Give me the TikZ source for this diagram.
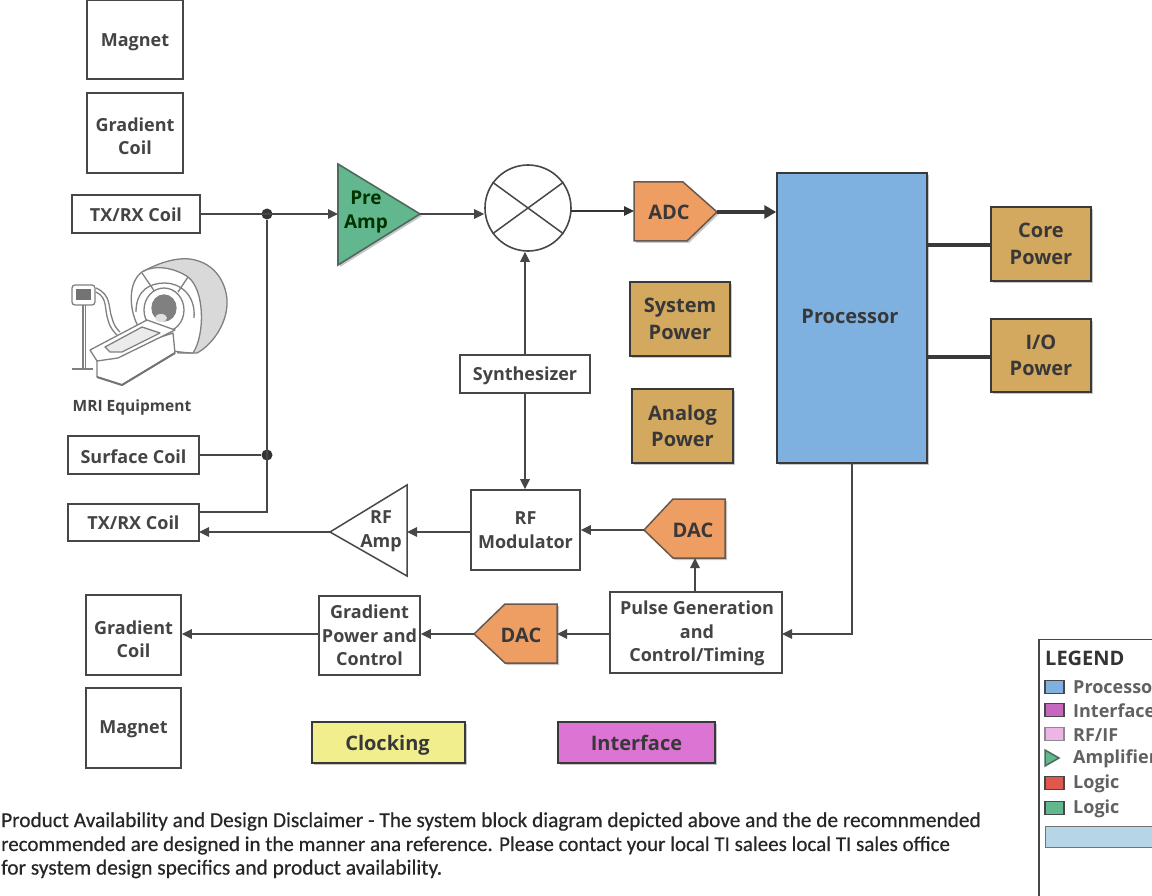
\documentclass[tikz,border=0pt]{standalone}
\usepackage{fontspec}
\setmainfont{Open Sans}
\newfontfamily\discfont[FakeBold=0.4]{Carlito}
\usetikzlibrary{arrows.meta,shadows,calc}
\definecolor{ln}{HTML}{474747}
\definecolor{txt}{HTML}{444444}
\definecolor{tan}{HTML}{D3A85F}
\definecolor{orng}{HTML}{EE9D63}
\definecolor{grn}{HTML}{62B78E}
\definecolor{blu}{HTML}{7FB1E0}
\definecolor{yel}{HTML}{F1EE8E}
\definecolor{mag}{HTML}{DB74D2}
\tikzset{
  lbl/.style={font=\fontsize{18}{23.5}\selectfont\bfseries,text=txt,align=center,inner sep=0pt},
  biglbl/.style={font=\fontsize{20}{26.5}\selectfont\bfseries,text=black!78,align=center,inner sep=0pt},
  wbox/.style={draw=ln,line width=1.6pt,fill=white,inner sep=0pt},
  softshadow/.style={drop shadow={shadow xshift=2pt,shadow yshift=-2pt,fill=black,opacity=.22}},
  cbox/.style={draw=ln!80!black,line width=1.5pt,inner sep=0pt,softshadow},
  wire/.style={draw=ln,line width=1.3pt},
  thinwire/.style={draw=black!80,line width=1.05pt},
  thickwire/.style={draw=ln!80!black,line width=3.2pt},
  arr/.style={-{Triangle[length=10pt,width=9.5pt]}},
  dot/.style={circle,fill=black!80,minimum size=11pt,inner sep=0pt},
  lgd/.style={font=\fontsize{18}{22}\selectfont\bfseries,text=black!62,anchor=west,inner sep=0pt},
  swatch/.style={draw=ln,line width=1.4pt,minimum width=19pt,minimum height=13pt,inner sep=0pt},
  disc/.style={text=black!85,anchor=west,inner sep=0pt},
  art/.style={draw=black!50,line width=1.3pt,line join=round},
}
\newcommand{\bx}[8]{\node[#1,minimum width=#5pt-#3pt,minimum height=#6pt-#4pt] (#7) at ({(#3+#5)/2},{(#4+#6)/2}) {};
  \node[#2] (#7t) at ({(#3+#5)/2},{(#4+#6)/2}) {#8};}
\begin{document}
\begin{tikzpicture}[x=1pt,y=-1pt]
\useasboundingbox (0,0) rectangle (1152,896);
\clip (0,0) rectangle (1152,896);
\fill[white] (0,0) rectangle (1152,896);

% white blocks
\bx{wbox}{lbl,yshift=-3pt}{87}{0}{183}{79}{magtop}{Magnet}
\bx{wbox}{lbl,yshift=-3.5pt}{87}{93}{183}{173}{gradtop}{Gradient\\Coil}
\bx{wbox}{lbl,yshift=-1pt}{72}{195}{200}{233}{txtop}{TX/RX Coil}
\bx{wbox}{lbl,yshift=-2pt}{68}{436}{199}{474}{surf}{Surface Coil}
\bx{wbox}{lbl}{68}{504}{199}{541}{txbot}{TX/RX Coil}
\bx{wbox}{lbl,yshift=-2pt}{460}{355}{590}{393}{synth}{Synthesizer}
\bx{wbox}{lbl}{471}{490}{580}{570}{rfmod}{RF\\Modulator}
\bx{wbox}{lbl}{319}{596}{420}{675}{gradpow}{Gradient\\Power and\\Control}
\bx{wbox}{lbl,yshift=-1pt,xshift=1pt}{610}{592}{782}{673}{pulse}{Pulse Generation\\and\\Control/Timing}
\bx{wbox}{lbl,yshift=-4pt}{86}{595}{181}{675}{gradbot}{Gradient\\Coil}
\bx{wbox}{lbl,yshift=-1pt}{86}{688}{181}{768}{magbot}{Magnet}

% coloured blocks
\bx{cbox,fill=blu}{biglbl,yshift=2pt,xshift=-2pt}{777}{173}{927}{463}{proc}{Processor}
\bx{cbox,fill=tan}{biglbl}{991}{207}{1091}{281}{core}{Core\\Power}
\bx{cbox,fill=tan}{biglbl}{991}{319}{1091}{392}{iop}{I/O\\Power}
\bx{cbox,fill=tan}{biglbl}{630}{282}{730}{356}{syspow}{System\\Power}
\bx{cbox,fill=tan}{biglbl}{632}{389}{733}{463}{anapow}{Analog\\Power}
\bx{cbox,fill=yel}{biglbl,yshift=-3pt,xshift=-1pt}{312}{722}{465}{763}{clk}{Clocking}
\bx{cbox,fill=mag}{biglbl}{558}{722}{715}{763}{intf}{Interface}

% triangles, pentagons and mixer
\draw[line width=1.6pt,draw=ln!70!grn,fill=grn,softshadow] (338,164) -- (420,214) -- (338,265) -- cycle;
\node[biglbl,font=\fontsize{19}{24}\selectfont\bfseries,text=green!20!black] (preamp) at (366,212.5) {Pre\\Amp};
\coordinate (preIn) at (338,214);
\coordinate (preOut) at (420,214);

\draw[draw=ln,line width=1.5pt,fill=white] (330,532) -- (407,485) -- (407,576) -- cycle;
\node[lbl] (rfamp) at (381,531) {RF\\Amp};
\coordinate (rfampIn) at (407,532);
\coordinate (rfampOut) at (330,532);

\node[circle,draw=ln,line width=1.6pt,fill=white,minimum size=86pt,inner sep=0pt] (mix) at (528,208) {};
\draw[wire,line width=1.5pt] (mix.36) -- (mix.216) (mix.144) -- (mix.324);

\draw[line width=1.5pt,draw=ln!80!orng,fill=orng,softshadow] (634,182) -- (683,182) -- (717,212) -- (687,241) -- (634,241) -- cycle;
\node[biglbl] (adc) at (669,212) {ADC};
\coordinate (adcIn) at (634,211);
\coordinate (adcOut) at (717,212);

\draw[line width=1.5pt,draw=ln!80!orng,fill=orng,softshadow] (725,499) -- (673,499) -- (644,530) -- (673,558) -- (725,558) -- cycle;
\node[biglbl] (dacA) at (693,530) {DAC};
\coordinate (dacAIn) at (695,558);
\coordinate (dacAOut) at (644,530);

\draw[line width=1.5pt,draw=ln!80!orng,fill=orng,softshadow] (557,604) -- (505,604) -- (474,634) -- (505,663) -- (557,663) -- cycle;
\node[biglbl] (dacB) at (521,635) {DAC};
\coordinate (dacBIn) at (557,634);
\coordinate (dacBOut) at (474,634);

% connectors
\node[dot] (j1) at (267,214) {};
\node[dot] (j2) at (267,455) {};
\draw[wire,arr] (txtop.east |- j1) -- (preIn);
\draw[wire] (surf.east |- j2) -- (j2);
\coordinate (txbotIn) at (199,512);
\coordinate (txbotOut) at (199,532);
\coordinate (bend) at (267,512);
\draw[wire] (j1) -- (bend) -- (txbotIn);
\draw[wire,arr] (rfampOut) -- (txbotOut);
\coordinate (mixIn) at (mix.west |- preOut);
\draw[wire,arr] (preOut) -- (mixIn);
\coordinate (mixOut) at (571,211);
\draw[thinwire,arr] (mixOut) -- (adcIn);
\draw[thickwire,-{Triangle[length=12pt,width=13pt]}] (adcOut) -- (proc.west |- adcOut);
\coordinate (mixS) at (synth.north |- mix.south);
\draw[wire,arr] (synth.north) -- (mixS);
\coordinate (rfmodN) at (synth.south |- rfmod.north);
\draw[wire,arr] (synth.south) -- (rfmodN);
\coordinate (rfmodIn) at (rfmod.east |- dacAOut);
\draw[wire,arr] (dacAOut) -- (rfmodIn);
\coordinate (rfmodOut) at (rfmod.west |- rfampIn);
\draw[wire,arr] (rfmodOut) -- (rfampIn);
\coordinate (pulseTop) at (dacAIn |- pulse.north);
\draw[wire,arr] (pulseTop) -- (dacAIn);
\coordinate (pulseLeft) at (pulse.west |- dacBIn);
\draw[wire,arr] (pulseLeft) -- (dacBIn);
\coordinate (gpIn) at (gradpow.east |- dacBOut);
\draw[wire,arr] (dacBOut) -- (gpIn);
\coordinate (gpOut) at (gradpow.west |- dacBOut);
\draw[wire,arr] (gpOut) -- (gradbot.east |- dacBOut);
\coordinate (procOut) at (852,463);
\coordinate (pulseRight) at (782,634);
\draw[wire,arr] (procOut) |- (pulseRight);
\draw[thickwire] (proc.east |- 0,245) -- (core.west |- 0,245);
\draw[thickwire] (proc.east |- 0,357) -- (iop.west |- 0,357);

% MRI equipment
\begin{scope}[art]
  \draw[fill=black!15] (142,272) .. controls (160,262) and (180,256) .. (195,260)
     .. controls (220,266) and (228,290) .. (227,305)
     .. controls (226,325) and (212,345) .. (197,353) -- (178,353) -- cycle;
  \draw[fill=white] (142,272) .. controls (128,282) and (128,310) .. (140,330)
     .. controls (150,345) and (165,352) .. (193,353)
     .. controls (205,335) and (205,290) .. (188,277)
     .. controls (175,268) and (155,264) .. (142,272) -- cycle;
  \draw (142,273) -- (155,292) (188,277) -- (178,292);
  \draw (136,312) .. controls (136,290) and (150,283) .. (165,283)
        .. controls (180,283) and (196,295) .. (194,318);
  \draw[fill=white] (164,310) ellipse (20pt and 22pt);
  \draw[fill=black!50,draw=black!50] (164,308) ellipse (12pt and 13pt);
  \fill[black!12] (161,318) ellipse (6pt and 4pt);
  % table
  \draw[fill=white] (97,358) -- (97,377) -- (122,385) -- (175,353) -- (173,333) -- cycle;
  \draw[fill=white] (90,350) -- (147,320) -- (175,330) -- (118,358) -- (97,361) -- cycle;
  \draw[fill=black!8] (105,347) -- (142,327) -- (160,333) -- (122,352) -- (110,352) -- cycle;
  \draw[line width=2pt,draw=black!55] (97,377) -- (122,385) -- (175,353);
  % monitor
  \draw (83,305) -- (83,368) (85.5,305) -- (85.5,368);
  \draw[line width=2pt] (72,368.5) -- (93,368.5);
  \draw (96,292) .. controls (108,298) and (104,308) .. (108,320) .. controls (110,328) and (114,332) .. (117,335);
  \draw (96,288) .. controls (112,295) and (108,308) .. (112,318) .. controls (114,326) and (117,329) .. (120,332);
  \draw[rounded corners=3pt,fill=white] (72,285) rectangle (95,305);
  \fill[black!55] (76,289) rectangle (91,300);
\end{scope}
\node[font=\fontsize{15.5}{20}\selectfont\bfseries,text=txt,inner sep=0pt] (mri) at (132,407.5) {MRI Equipment};

% legend
\node[draw=ln,line width=1.5pt,anchor=north west,minimum width=130pt,minimum height=258pt,inner sep=0pt] (legend) at (1038,638.5) {};
\node[font=\fontsize{20}{24}\selectfont\bfseries,text=black!80,anchor=west,inner sep=0pt] (lgT) at (1045,658) {LEGEND};
\definecolor{lgred}{HTML}{E0584C}
\definecolor{lgblue}{HTML}{B6D6E8}
\definecolor{lgmag}{HTML}{C768BE}
\definecolor{lgpink}{HTML}{EDB4E6}
\node[swatch,fill=blu] (s1) at (1054.5,687) {};
\node[swatch,fill=lgmag] (s2) at (1054.5,710) {};
\node[swatch,draw=black!45,fill=lgpink] (s3) at (1054.5,734) {};
\draw[line width=1.5pt,draw=ln!70!grn,fill=grn] (1045,750) -- (1059,758) -- (1045,766) -- cycle;
\coordinate (s4) at (1059,758);
\node[swatch,fill=lgred] (s5) at (1054.5,783) {};
\node[swatch,fill=grn] (s6) at (1054.5,808) {};
\node[swatch,draw=black!55,fill=lgblue,minimum width=120pt,minimum height=21pt,anchor=west] (s7) at (1045,837) {};
\node[lgd] (l1) at (1073,687) {Processor};
\node[lgd] (l2) at (1073,711) {Interface};
\node[lgd] (l3) at (1073,735) {RF/IF};
\node[lgd] (l4) at (1073,759) {Amplifier};
\node[lgd] (l5) at (1073,784) {Logic};
\node[lgd] (l6) at (1073,809) {Logic};

% disclaimer
\node[disc,font=\discfont\fontsize{21.3}{24}\selectfont] (d1) at (1,821.5) {Product Availability and Design Disclaimer - The system block diagram depicted above and the de recomnmended};
\node[disc,font=\discfont\fontsize{21}{24}\selectfont] (d2) at (1,845.5) {recommended are designed in the manner ana reference. Please contact your local TI salees local TI sales office};
\node[disc,font=\discfont\fontsize{21.4}{24}\selectfont] (d3) at (1,869) {for system design specifics and product availability.};
\end{tikzpicture}
\end{document}
